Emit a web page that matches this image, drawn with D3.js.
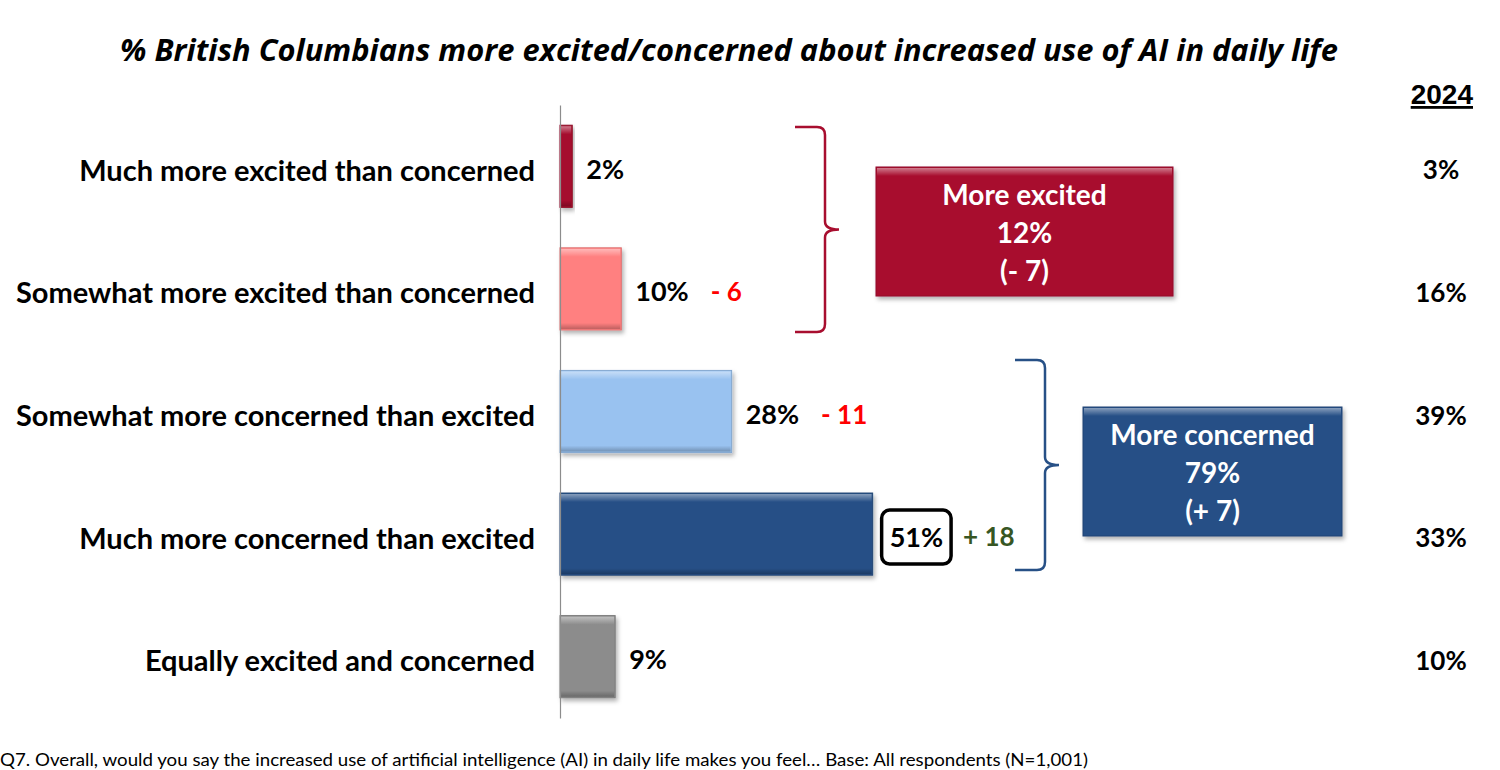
<!DOCTYPE html>
<html>
<head>
<meta charset="utf-8">
<script src="https://cdn.jsdelivr.net/npm/d3@7"></script>
<style>
  body { margin: 0; background: #fff; }
  #chart { width: 1500px; height: 770px; }
  text { font-family: Lato, "Open Sans", sans-serif; }
</style>
</head>
<body>
<div id="chart"></div>
<script>
//Datos
let categories = ['Much more excited than concerned', 'Somewhat more excited than concerned', 'Somewhat more concerned than excited', 'Much more concerned than excited', 'Equally excited and concerned'];
let values = [2, 10, 28, 51, 9];
let changes = ['', '- 6', '- 11', '+ 18', ''];
let values2024 = [3, 16, 39, 33, 10];
let groupNames = ['More excited', 'More concerned'];
let groupValues = [12, 79];
let groupChanges = ['(- 7)', '(+ 7)'];

//Colores
let barColors = ['#A50D2D', '#FF8080', '#99C2F0', '#275086', '#8C8C8C'];
let groupColors = ['#A80E2F', '#275086'];

let svg = d3.select('#chart').append('svg').attr('width', 1500).attr('height', 770);
let defs = svg.append('defs');

let shadow = defs.append('filter').attr('id', 'shadow').attr('x', '-10%').attr('y', '-10%').attr('width', '130%').attr('height', '140%');
shadow.append('feDropShadow').attr('dx', 2).attr('dy', 3).attr('stdDeviation', 2).attr('flood-color', '#000').attr('flood-opacity', 0.3);

let topShine = defs.append('linearGradient').attr('id', 'topShine').attr('x1', 0).attr('y1', 0).attr('x2', 0).attr('y2', 1);
topShine.append('stop').attr('offset', '0%').attr('stop-color', '#fff').attr('stop-opacity', 0.45);
topShine.append('stop').attr('offset', '100%').attr('stop-color', '#fff').attr('stop-opacity', 0);

let botShade = defs.append('linearGradient').attr('id', 'botShade').attr('x1', 0).attr('y1', 0).attr('x2', 0).attr('y2', 1);
botShade.append('stop').attr('offset', '0%').attr('stop-color', '#000').attr('stop-opacity', 0);
botShade.append('stop').attr('offset', '100%').attr('stop-color', '#000').attr('stop-opacity', 0.25);

//Título
svg.append('text')
    .attr('x', 729).attr('y', 61)
    .attr('text-anchor', 'middle')
    .style('font-family', '"Open Sans", sans-serif')
    .style('font-size', '31px').style('font-weight', 'bold').style('font-style', 'italic')
    .attr('textLength', 1218)
    .attr('lengthAdjust', 'spacingAndGlyphs')
    .text('% British Columbians more excited/concerned about increased use of AI in daily life');

let margin = {top: 105, left: 560};
let chart = svg.append('g').attr('transform', `translate(${margin.left},${margin.top})`);
let height = 613;

let x = d3.scaleLinear().domain([0, 100]).range([0, 613]);
let y = d3.scaleBand().domain(categories).range([0, height]).paddingInner(0.33).paddingOuter(0.165);

//Eje Y
let yAxis = function(g) {
    g.call(d3.axisLeft(y).tickSize(0).tickPadding(25));
    g.select('.domain').attr('stroke', '#8c8c8c').attr('stroke-width', 1.2);
    g.selectAll('.tick text')
        .attr('dy', '0.5em')
        .style('font-family', 'Lato, sans-serif')
        .style('font-size', '29px').style('font-weight', 'bold').attr('fill', '#000');
};

//Barras
let bars = chart.selectAll('.bar')
    .data(categories)
    .enter()
    .append('g')
    .attr('class', 'bar');

bars.append('rect')
    .attr('x', 0)
    .attr('y', function(d) { return y(d); })
    .attr('width', function(d, i) { return x(values[i]); })
    .attr('height', y.bandwidth())
    .attr('fill', function(d, i) { return barColors[i]; })
    .attr('stroke', function(d, i) { return d3.color(barColors[i]).darker(0.4); })
    .attr('filter', 'url(#shadow)');

bars.append('rect')
    .attr('x', 1)
    .attr('y', function(d) { return y(d) + 1; })
    .attr('width', function(d, i) { return Math.max(0, x(values[i]) - 2); })
    .attr('height', 8)
    .attr('fill', 'url(#topShine)');

bars.append('rect')
    .attr('x', 1)
    .attr('y', function(d) { return y(d) + y.bandwidth() - 7; })
    .attr('width', function(d, i) { return Math.max(0, x(values[i]) - 2); })
    .attr('height', 6)
    .attr('fill', 'url(#botShade)');

chart.append('g').call(yAxis);

//Etiquetas de valor y cambio
bars.each(function(d, i) {
    let g = d3.select(this);
    let cy = y(d) + y.bandwidth() / 2 + 3;
    let label = g.append('text')
        .attr('x', x(values[i]) + (i === 3 ? 17 : 14))
        .attr('y', cy)
        .attr('dy', '0.35em')
        .style('font-size', '27px').style('font-weight', 'bold')
        .text(values[i] + '%');
    let bb = label.node().getBBox();
    let end = bb.x + bb.width;
    if (i === 3) {
        g.append('rect')
            .attr('x', bb.x - 8).attr('y', cy - 27)
            .attr('width', bb.width + 16).attr('height', 54)
            .attr('rx', 8)
            .attr('fill', 'none').attr('stroke', '#000').attr('stroke-width', 3.5);
        end += 8;
    }
    if (changes[i]) {
        g.append('text')
            .attr('x', end + (i === 3 ? 12 : 22))
            .attr('y', cy)
            .attr('dy', '0.35em')
            .style('font-size', '26px').style('font-weight', 'bold')
            .attr('fill', changes[i].indexOf('+') === 0 ? '#375623' : '#FF0000')
            .text(changes[i]);
    }
});

//Llaves de agrupación
function brace(x0, y0, y1, w) {
    let m = (y0 + y1) / 2;
    return `M${x0},${y0} L${x0 + w - 8},${y0} Q${x0 + w},${y0} ${x0 + w},${y0 + 8}` +
        ` L${x0 + w},${m - 8} Q${x0 + w},${m} ${x0 + w + 14},${m}` +
        ` Q${x0 + w},${m} ${x0 + w},${m + 8} L${x0 + w},${y1 - 8} Q${x0 + w},${y1} ${x0 + w - 8},${y1} L${x0},${y1}`;
}

let groupRows = [[0, 1], [2, 3]];
let braceX = [235, 455];
let braceY = [[22, 227], [255, 465]];
let boxX = [316, 523];
let boxW = [297, 259];
let boxY = [62, 302];
groupRows.forEach(function(rows, g) {
    let color = groupColors[g];
    chart.append('path')
        .attr('d', brace(braceX[g], braceY[g][0], braceY[g][1], 30))
        .attr('fill', 'none').attr('stroke', color).attr('stroke-width', 2.5);

    chart.append('rect')
        .attr('x', boxX[g]).attr('y', boxY[g])
        .attr('width', boxW[g]).attr('height', 129)
        .attr('fill', color)
        .attr('stroke', d3.color(color).darker(0.4))
        .attr('filter', 'url(#shadow)');
    chart.append('rect')
        .attr('x', boxX[g] + 1).attr('y', boxY[g] + 1)
        .attr('width', boxW[g] - 2).attr('height', 8)
        .attr('fill', 'url(#topShine)');
    let lines = [groupNames[g], groupValues[g] + '%', groupChanges[g]];
    chart.append('text')
        .attr('x', boxX[g] + boxW[g] / 2)
        .attr('y', boxY[g] + 38)
        .attr('text-anchor', 'middle')
        .attr('fill', '#fff')
        .style('font-size', '28px').style('font-weight', 'bold')
        .selectAll('tspan')
        .data(lines)
        .enter()
        .append('tspan')
        .attr('x', boxX[g] + boxW[g] / 2)
        .attr('dy', function(d, i) { return i === 0 ? 0 : 38; })
        .text(function(d) { return d; });
});

//Columna 2024
svg.append('text')
    .attr('x', 1473).attr('y', 104)
    .attr('text-anchor', 'end')
    .style('font-family', 'Arial, "Liberation Sans", sans-serif')
    .style('font-size', '28px').style('font-weight', 'bold')
    .style('text-decoration', 'underline')
    .text('2024');

chart.selectAll('.prev')
    .data(categories)
    .enter()
    .append('text')
    .attr('class', 'prev')
    .attr('x', 881)
    .attr('y', function(d) { return y(d) + y.bandwidth() / 2 + 4; })
    .attr('dy', '0.35em')
    .attr('text-anchor', 'middle')
    .style('font-size', '26px').style('font-weight', 'bold')
    .text(function(d, i) { return values2024[i] + '%'; });

//Nota
svg.append('text')
    .attr('x', 0).attr('y', 766)
    .style('font-family', 'Lato, sans-serif')
    .style('font-size', '17px')
    .attr('textLength', 1088)
    .attr('lengthAdjust', 'spacingAndGlyphs')
    .text('Q7. Overall, would you say the increased use of artificial intelligence (AI) in daily life makes you feel… Base:  All respondents (N=1,001)');
</script>
</body>
</html>
